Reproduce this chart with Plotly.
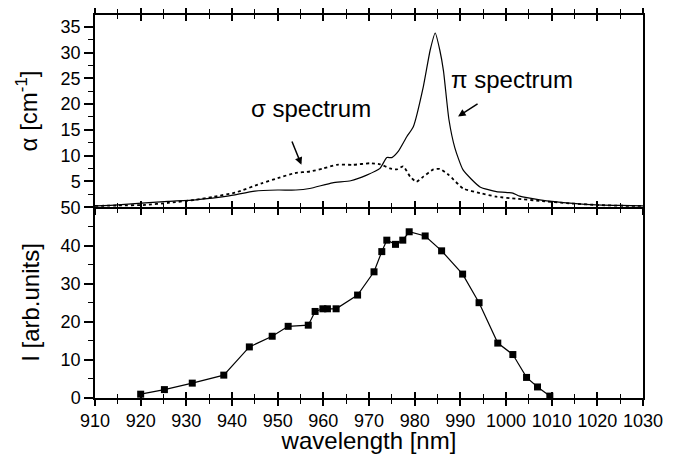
import plotly.graph_objects as go

# ---- data ----
pi_wl = [910, 915, 921, 926, 932, 939, 945, 950, 954, 957, 962, 966, 969.5, 972.4, 973.9, 975,
         976.4, 978.3, 979.7, 981.9, 983.4, 984.5, 985.5, 986.3, 987.5, 988.8, 990.6, 994.3,
         997.9, 1000.5, 1001.5, 1003, 1007.4, 1014.7, 1019.8, 1025, 1030]
pi_abs = [0.2, 0.4, 0.8, 1.1, 1.4, 2.1, 3.1, 3.3, 3.3, 3.6, 4.7, 5.1, 6.2, 7.5, 9.6, 9.6,
          10.8, 13.7, 15.6, 23.4, 30.5, 33.8, 30.5, 26.5, 17.0, 11.5, 7.2, 3.9,
          3.0, 2.8, 2.7, 2.1, 1.4, 0.7, 0.4, 0.3, 0.2]

sigma_wl = [910, 915, 921, 926, 932, 936, 940.7, 946.5, 950, 953.8, 957.1, 960, 962.9, 966.6,
            970.2, 972.4, 974.6, 976.1, 977.5, 979, 980.4, 981.9, 984.1, 985.5, 987.5, 990.6,
            994.3, 997.9, 1002.3, 1007.4, 1014, 1019.8, 1025, 1030]
sigma_abs = [0.2, 0.3, 0.4, 0.8, 1.4, 2.0, 2.8, 4.6, 5.6, 6.6, 6.9, 7.5, 8.2, 8.2,
             8.5, 8.3, 7.5, 7.3, 7.9, 5.9, 4.9, 5.9, 7.3, 7.4, 6.2, 3.6,
             2.7, 2.0, 1.6, 1.2, 0.7, 0.4, 0.25, 0.2]

em_wl = [920, 925.2, 931.3, 938.2, 943.8, 948.8, 952.3, 956.7, 958.2, 959.9, 960.9, 962.8,
         967.5, 971.1, 972.8, 973.9, 975.8, 977.4, 978.8, 982.3, 985.9, 990.5, 994.1, 998.2,
         1001.5, 1004.5, 1006.9, 1009.6]
em_int = [1.0, 2.2, 3.9, 6.0, 13.4, 16.2, 18.8, 19.1, 22.7, 23.4, 23.4, 23.4,
          27.0, 33.1, 38.4, 41.4, 40.3, 41.4, 43.6, 42.5, 38.6, 32.5, 25.0, 14.4,
          11.4, 5.4, 2.9, 0.5]

x_ticks = list(range(910, 1031, 10))
top_y_ticks = [5, 10, 15, 20, 25, 30, 35]
bot_y_ticks = [0, 10, 20, 30, 40, 50]

FONT = "Liberation Sans, Arial, sans-serif"
XR = [910, 1030]
TOP_R = [0, 37.3]
BOT_R = [0, 50.1]
SPLIT = 0.4987

fig = go.Figure()

fig.add_trace(go.Scatter(x=pi_wl, y=pi_abs, mode="lines", xaxis="x2", yaxis="y2",
                         line=dict(color="black", width=1.2, shape="spline", smoothing=0.5),
                         showlegend=False))
fig.add_trace(go.Scatter(x=sigma_wl, y=sigma_abs, mode="lines", xaxis="x2", yaxis="y2",
                         line=dict(color="black", width=1.8, dash="dot", shape="spline", smoothing=0.5),
                         showlegend=False))
fig.add_trace(go.Scatter(x=em_wl, y=em_int, mode="lines+markers", xaxis="x", yaxis="y",
                         line=dict(color="black", width=1.2),
                         marker=dict(symbol="square", size=7, color="black"),
                         showlegend=False))
# dummy traces so overlay tick axes are drawn
fig.add_trace(go.Scatter(x=[None], y=[None], xaxis="x3", yaxis="y", showlegend=False))
fig.add_trace(go.Scatter(x=[None], y=[None], xaxis="x4", yaxis="y2", showlegend=False))

tickfont = dict(family=FONT, size=18, color="black")
titlefont = dict(family=FONT, size=24, color="black")

common_x = dict(range=XR, showgrid=False, zeroline=False, linecolor="black", linewidth=1.5,
                tickcolor="black", tickwidth=1.5, tickvals=x_ticks, automargin=False)

# page body has an 8px offset, so the figure is sized/margined to land at the reference spot
fig.update_layout(
    width=674, height=446,
    margin=dict(l=87, r=39, t=7, b=56),
    paper_bgcolor="white", plot_bgcolor="white",
    font=dict(family=FONT, color="black"),
    xaxis=dict(**common_x, anchor="y", domain=[0, 1], ticks="outside", ticklen=6,
               minor=dict(dtick=5, tick0=910, ticks="outside", ticklen=4, tickcolor="black", tickwidth=1.2),
               showticklabels=True, tickfont=tickfont,
               title=dict(text="wavelength [nm]", font=titlefont, standoff=4), mirror=False),
    xaxis3=dict(**common_x, anchor="y", overlaying="x", side="bottom", ticks="inside", ticklen=6,
                minor=dict(dtick=5, tick0=910, ticks="inside", ticklen=4, tickcolor="black", tickwidth=1.2),
                showticklabels=False),
    xaxis2=dict(**common_x, anchor="y2", domain=[0, 1], ticks="inside", ticklen=6, mirror="ticks",
                minor=dict(dtick=5, tick0=910, ticks="inside", ticklen=4, tickcolor="black", tickwidth=1.2),
                showticklabels=False),
    xaxis4=dict(**common_x, anchor="y2", overlaying="x2", side="bottom", ticks="outside", ticklen=6,
                mirror="ticks",
                minor=dict(dtick=5, tick0=910, ticks="outside", ticklen=4, tickcolor="black", tickwidth=1.2),
                showticklabels=False),
    yaxis=dict(range=BOT_R, domain=[0, SPLIT], anchor="x", showgrid=False, zeroline=False,
               automargin=False,
               linecolor="black", linewidth=1.5, mirror=True, ticks="outside", ticklen=9,
               tickcolor="black", tickwidth=1.5, tickvals=bot_y_ticks, tickfont=tickfont,
               minor=dict(dtick=5, tick0=0, ticks="outside", ticklen=5, tickcolor="black", tickwidth=1.2),
               title=dict(text="I [arb.units]", font=titlefont, standoff=14)),
    yaxis2=dict(range=TOP_R, domain=[SPLIT, 1], anchor="x2", showgrid=False, zeroline=False,
                automargin=False,
                linecolor="black", linewidth=1.5, mirror=True, ticks="outside", ticklen=9,
                tickcolor="black", tickwidth=1.5, tickvals=top_y_ticks, tickfont=tickfont,
                minor=dict(dtick=2.5, tick0=0, ticks="outside", ticklen=5, tickcolor="black", tickwidth=1.2),
                title=dict(text="α [cm<sup>-1</sup>]", font=titlefont, standoff=16)),
)

ann_font = dict(family=FONT, size=24, color="black")
fig.add_annotation(x=957.3, y=19.2, xref="x2", yref="y2", text="σ spectrum",
                   showarrow=False, font=ann_font)
fig.add_annotation(x=955.2, y=8.2, ax=953.0, ay=13.0, xref="x2", yref="y2",
                   axref="x2", ayref="y2", text="", showarrow=True,
                   arrowhead=2, arrowsize=1, arrowwidth=1.5, arrowcolor="black")
fig.add_annotation(x=1001.3, y=24.7, xref="x2", yref="y2", text="π spectrum",
                   showarrow=False, font=ann_font)
fig.add_annotation(x=989.5, y=17.6, ax=994.1, ay=20.2, xref="x2", yref="y2",
                   axref="x2", ayref="y2", text="", showarrow=True,
                   arrowhead=2, arrowsize=1, arrowwidth=1.5, arrowcolor="black")

fig.write_html("out.html")
